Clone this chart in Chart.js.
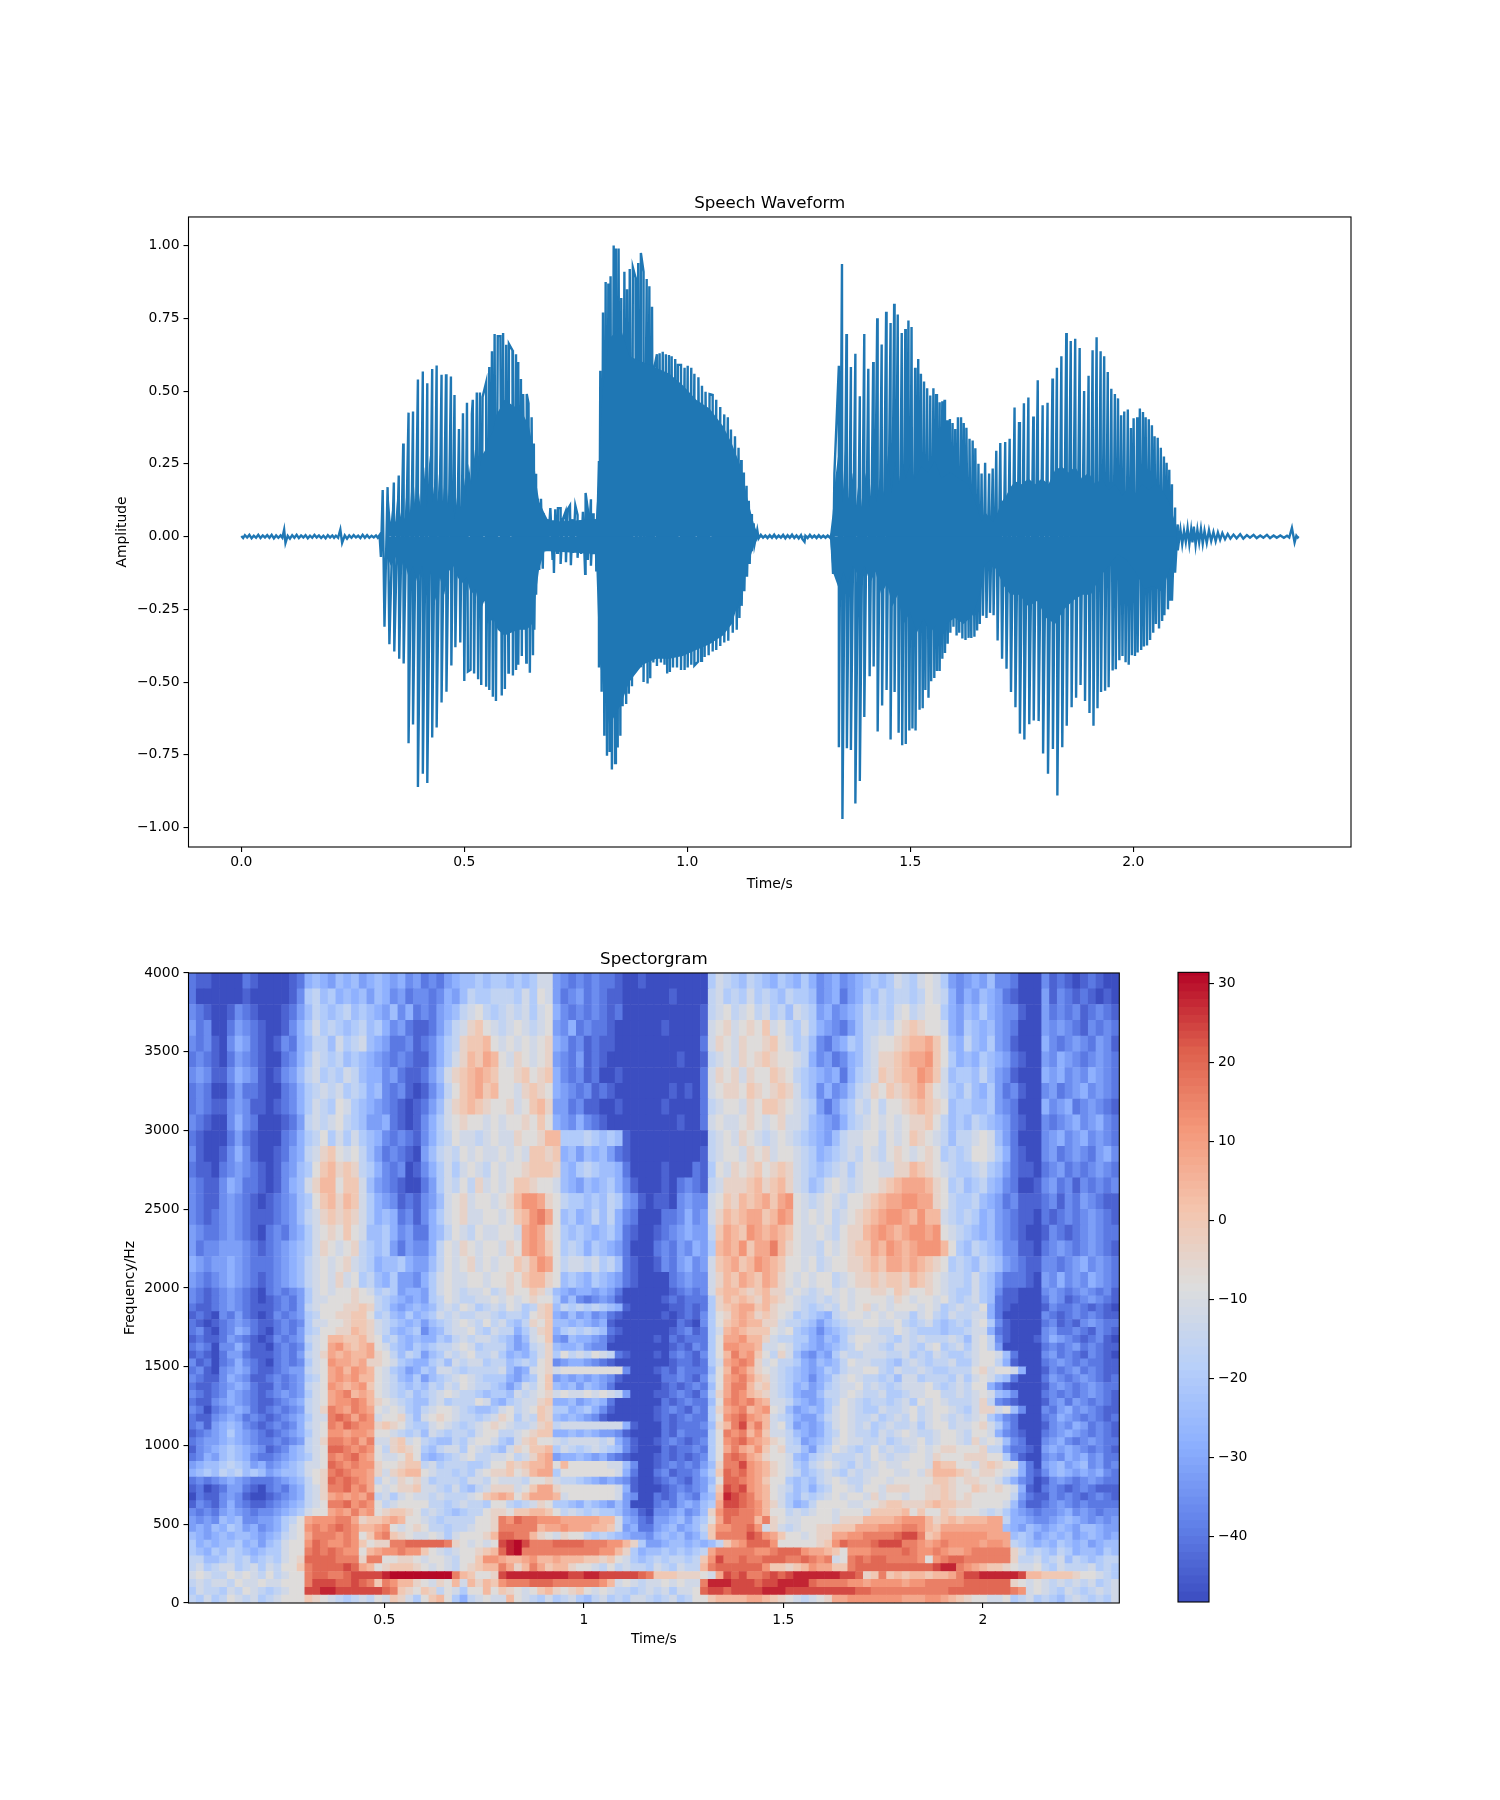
<!DOCTYPE html>
<html><head><meta charset="utf-8">
<script src="https://cdn.jsdelivr.net/npm/chart.js@4"></script>
<style>html,body{margin:0;padding:0;background:#fff}#p{position:relative;width:1500px;height:1800px;overflow:hidden}canvas{position:absolute}</style>
</head><body><div id="p">
<canvas id="w" width="1500" height="722" style="left:1px;top:171px;width:1500px;height:722px"></canvas>
<canvas id="s" width="1500" height="722" style="left:1px;top:926px;width:1500px;height:722px"></canvas>
<canvas id="c" width="130" height="660" style="left:1132px;top:960px;width:130px;height:660px"></canvas>
</div>
<script>
const waveTops=[[0,.002],[8,.005],[18,.006],[28,.003],[38,.006],[48,.004],[58,.005],[68,.006],[78,.004],[88,.004],[96,.024],[104,.003],[114,.005],[124,.006],[134,.004],[144,.005],[154,.003],[164,.006],[174,.004],[184,.003],[194,.005],[204,.004],[212,.003],[222,.024],[232,.004],[242,.004],[252,.005],[262,.003],[272,.006],[282,.005],[292,.003],[302,.004],[310,.005],
[317,.16],[328,.17],[342,.186],[353,.21],[363,.32],[375,.426],[385,.43],[396,.54],[407,.567],[417,.527],[428,.576],[438,.588],[449,.556],[459,.558],[470,.55],[478,.487],[488,.37],[497,.424],[506,.46],[517,.42],[519,.47],[528,.495],[535,.495],[541,.48],[549,.53],[556,.583],[562,.637],[568,.696],[575,.689],[581,.689],[587,.7],[594,.659],[600,.662],[608,.64],[616,.627],[621,.6],[627,.542],[632,.49],[640,.49],[644,.458],[651,.41],[656,.32],[661,.216],[665,.13],[672,.13],[678,.08],
[687,.06],[693,.098],[699,.056],[704,.094],[710,.098],[716,.098],[721,.06],[727,.085],[732,.094],[737,.107],[743,.06],[749,.107],[754,.075],[760,.056],[766,.085],[772,.15],[777,.094],[784,.128],[789,.08],[795,.06],
[802,.26],[805,.57],[811,.77],[817,.875],[823,.87],[828,.895],[835,1],[840,.99],[846,.99],[852,.82],[859,.91],[865,.85],[871,.92],[878,.925],[884,.89],[890,.94],[896,.975],[902,.91],[909,.885],[915,.86],[921,.79],[926,.58],[932,.627],[938,.63],[945,.635],[952,.627],[959,.624],[965,.62],[973,.61],[979,.59],[986,.59],[994,.58],[1001,.587],[1009,.58],[1016,.56],[1025,.548],[1033,.518],[1041,.498],[1050,.49],[1057,.487],[1065,.47],[1074,.445],[1083,.42],[1091,.41],[1098,.368],[1107,.345],[1115,.305],[1121,.263],[1127,.22],[1133,.175],[1138,.123],[1143,.078],[1149,.046],[1157,.023],
[1165,.006],[1175,.004],[1185,.005],[1195,.007],[1205,.004],[1215,.006],[1225,.005],[1235,.007],[1245,.004],[1255,.005],[1265,.003],[1275,.006],[1285,.004],[1295,.005],[1305,.003],[1315,.004],[1323,.005],
[1330,.217],[1340,.587],[1347,.937],[1357,.696],[1367,.583],[1377,.628],[1387,.482],[1397,.696],[1406,.577],[1417,.6],[1426,.75],[1436,.66],[1446,.773],[1456,.734],[1464,.8],[1472,.763],[1481,.7],[1489,.713],[1496,.743],[1503,.72],[1511,.58],[1518,.61],[1524,.56],[1531,.533],[1538,.51],[1545,.485],[1552,.51],[1558,.49],[1566,.462],[1572,.465],[1577,.47],[1583,.4],[1589,.404],[1595,.39],[1601,.37],[1607,.41],[1614,.41],[1620,.39],[1626,.374],[1633,.336],[1640,.33],[1646,.304],[1653,.25],[1660,.217],[1668,.254],[1677,.217],[1685,.234],[1693,.295],[1702,.322],[1713,.325],[1723,.336],[1734,.444],[1744,.394],[1755,.458],[1765,.478],[1776,.413],[1786,.537],[1797,.451],[1808,.46],[1819,.543],[1829,.58],[1839,.62],[1850,.7],[1860,.672],[1870,.68],[1880,.648],[1890,.5],[1900,.553],[1909,.64],[1918,.685],[1927,.637],[1935,.62],[1943,.566],[1951,.508],[1959,.49],[1966,.475],[1973,.417],[1980,.43],[1988,.437],[1995,.373],[2001,.407],[2009,.41],[2015,.44],[2022,.428],[2028,.41],[2035,.403],[2042,.383],[2048,.345],[2055,.34],[2062,.305],[2069,.275],[2075,.254],[2081,.23],[2087,.18],[2094,.1],[2100,.042],
[2106,.024],[2114,.02],[2122,.03],[2130,.024],[2136,.034],[2144,.024],[2152,.026],[2160,.02],[2170,.022],[2180,.016],[2190,.014],[2200,.012],[2212,.009],[2225,.007],[2240,.008],[2255,.005],[2270,.006],[2285,.004],[2300,.006],[2315,.004],[2330,.004],[2345,.003],[2356,.03],[2366,.003],[2371,.001]];
const waveBottoms=[[4,-.005],[13,-.003],[23,-.006],[33,-.004],[43,-.005],[53,-.003],[63,-.004],[73,-.006],[83,-.004],[92,-.004],[99,-.022],[109,-.007],[119,-.004],[129,-.005],[139,-.003],[149,-.006],[159,-.004],[169,-.003],[179,-.005],[189,-.006],[199,-.003],[208,-.004],[217,-.004],[226,-.022],[237,-.007],[247,-.004],[257,-.003],[267,-.005],[277,-.004],[287,-.004],[297,-.003],[306,-.004],
[313,-.07],[321,-.31],[332,-.37],[343,-.395],[354,-.42],[364,-.436],[375,-.71],[385,-.646],[396,-.86],[407,-.815],[417,-.847],[428,-.69],[438,-.656],[449,-.57],[460,-.533],[471,-.443],[480,-.38],[491,-.364],[500,-.496],[508,-.464],[514,-.458],[522,-.47],[531,-.49],[538,-.51],[549,-.516],[556,-.527],[564,-.55],[571,-.565],[584,-.546],[591,-.524],[599,-.467],[609,-.477],[616,-.458],[621,-.44],[629,-.41],[639,-.433],[647,-.468],[654,-.408],[657,-.32],[661,-.2],[668,-.115],[676,-.11],[681,-.05],
[687,-.048],[698,-.08],[701,-.125],[708,-.056],[716,-.094],[728,-.088],[739,-.098],[744,-.056],[754,-.073],[762,-.06],[771,-.128],[777,-.08],[784,-.1],[790,-.06],[796,-.12],
[802,-.45],[808,-.533],[814,-.684],[820,-.753],[826,-.74],[831,-.8],[838,-.778],[844,-.725],[850,-.684],[855,-.583],[863,-.575],[869,-.54],[876,-.514],[885,-.458],[895,-.445],[902,-.5],[911,-.505],[917,-.487],[924,-.433],[932,-.445],[941,-.433],[949,-.44],[955,-.47],[961,-.465],[968,-.45],[977,-.45],[986,-.458],[994,-.458],[1001,-.45],[1009,-.44],[1016,-.443],[1024,-.43],[1031,-.427],[1039,-.414],[1048,-.408],[1057,-.395],[1065,-.39],[1074,-.376],[1083,-.364],[1092,-.358],[1102,-.33],[1111,-.32],[1117,-.28],[1122,-.238],[1128,-.188],[1134,-.138],[1140,-.094],[1145,-.05],[1151,-.025],
[1160,-.006],[1170,-.004],[1180,-.005],[1190,-.004],[1200,-.005],[1210,-.004],[1220,-.006],[1230,-.004],[1240,-.005],[1250,-.006],[1258,-.008],[1263,-.018],[1270,-.005],[1280,-.004],[1290,-.005],[1300,-.004],[1310,-.004],[1320,-.004],
[1327,-.128],[1340,-.724],[1348,-.97],[1358,-.727],[1367,-.733],[1377,-.917],[1387,-.84],[1397,-.62],[1409,-.48],[1418,-.446],[1427,-.67],[1437,-.58],[1447,-.527],[1456,-.697],[1465,-.534],[1474,-.674],[1482,-.717],[1490,-.713],[1498,-.666],[1505,-.659],[1512,-.666],[1521,-.595],[1528,-.59],[1534,-.527],[1541,-.554],[1547,-.497],[1554,-.486],[1560,-.462],[1566,-.462],[1572,-.42],[1578,-.4],[1584,-.368],[1590,-.33],[1597,-.31],[1604,-.34],[1610,-.33],[1617,-.35],[1624,-.355],[1631,-.348],[1637,-.348],[1644,-.344],[1650,-.323],[1656,-.3],[1663,-.272],[1671,-.28],[1679,-.262],[1687,-.27],[1696,-.357],[1706,-.42],[1716,-.454],[1726,-.534],[1736,-.586],[1746,-.677],[1756,-.697],[1767,-.645],[1777,-.632],[1788,-.634],[1798,-.745],[1809,-.815],[1820,-.73],[1830,-.89],[1841,-.724],[1851,-.65],[1862,-.586],[1872,-.554],[1882,-.51],[1892,-.565],[1902,-.606],[1911,-.65],[1920,-.59],[1928,-.534],[1937,-.53],[1945,-.518],[1954,-.46],[1961,-.456],[1969,-.425],[1976,-.41],[1983,-.432],[1990,-.44],[1997,-.408],[2004,-.41],[2010,-.398],[2018,-.39],[2024,-.378],[2031,-.374],[2038,-.355],[2045,-.33],[2051,-.3],[2058,-.316],[2065,-.29],[2070,-.27],[2078,-.25],[2083,-.22],[2087,-.22],[2094,-.124],[2100,-.047],
[2110,-.026],[2118,-.018],[2126,-.026],[2133,-.02],[2140,-.028],[2148,-.02],[2156,-.024],[2165,-.022],[2175,-.015],[2185,-.016],[2195,-.011],[2206,-.009],[2218,-.007],[2232,-.006],[2247,-.007],[2262,-.004],[2277,-.005],[2292,-.004],[2307,-.005],[2322,-.004],[2338,-.004],[2350,-.003],[2362,-.02],[2369,-.003]];
const waveCoreUpper=[[325,.08],[330,.15],[335,.05],[340,.12],[345,.05],[350,.14],[355,.06],[360,.1],[366,.06],[372,.2],[378,.08],[384,.26],[390,.1],[395,.2],[402,.1],[410,.24],[416,.1],[422,.28],[428,.12],[434,.2],[440,.12],[446,.3],[452,.12],[458,.24],[464,.1],[470,.22],[478,.06],[484,.14],[492,.1],[498,.22],[504,.14],[510,.25],[516,.18],[524,.3],[530,.2],[540,.28],[548,.3],[556,.34],[564,.36],[572,.42],[580,.44],[590,.47],[600,.46],[610,.45],[620,.44],[632,.42],[645,.38],[655,.3],[660,.2],[668,.12],[680,.08],[690,.05],[795,.06],[803,.25],[810,.5],[825,.68],[850,.72],[870,.62],[900,.6],[930,.58],[960,.56],[990,.52],[1020,.47],[1050,.44],[1080,.38],[1100,.32],[1120,.24],[1135,.13],[1150,.04],[1160,.003],[1320,.003],
[1326,.08],[1332,.2],[1340,.3],[1348,.12],[1355,.34],[1362,.13],[1370,.22],[1378,.1],[1385,.2],[1392,.1],[1400,.22],[1408,.1],[1415,.24],[1424,.12],[1432,.2],[1442,.14],[1450,.28],[1458,.15],[1466,.26],[1474,.18],[1482,.26],[1490,.2],[1500,.25],[1510,.2],[1525,.24],[1540,.22],[1555,.26],[1570,.2],[1590,.22],[1610,.2],[1630,.18],[1650,.1],[1660,.05],[1670,.08],[1685,.05],[1695,.08],[1705,.12],[1715,.14],[1725,.17],[1735,.19],[1750,.18],[1765,.2],[1780,.18],[1795,.2],[1810,.18],[1825,.23],[1840,.24],[1855,.22],[1870,.24],[1885,.2],[1900,.22],[1915,.18],[1930,.2],[1945,.16],[1960,.18],[1975,.14],[1990,.17],[2005,.15],[2020,.18],[2035,.16],[2050,.18],[2065,.16],[2080,.12],[2098,.03]];
const waveCoreLower=[[325,-.06],[335,-.1],[345,-.07],[355,-.12],[365,-.08],[375,-.14],[385,-.1],[395,-.16],[405,-.1],[415,-.2],[425,-.12],[435,-.22],[445,-.14],[455,-.2],[465,-.12],[475,-.1],[485,-.14],[495,-.16],[505,-.14],[515,-.2],[525,-.18],[535,-.26],[545,-.22],[555,-.3],[565,-.28],[575,-.32],[590,-.34],[605,-.33],[620,-.32],[640,-.32],[652,-.3],[660,-.2],[668,-.11],[680,-.05],[690,-.05],[795,-.06],[803,-.42],[810,-.5],[825,-.65],[850,-.58],[870,-.5],[900,-.44],[930,-.42],[960,-.42],[990,-.41],[1020,-.39],[1050,-.37],[1080,-.34],[1100,-.3],[1120,-.2],[1135,-.1],[1150,-.03],[1160,-.003],[1320,-.003],
[1326,-.12],[1340,-.18],[1350,-.12],[1360,-.16],[1372,-.1],[1385,-.14],[1398,-.1],[1410,-.16],[1422,-.12],[1435,-.2],[1448,-.16],[1460,-.24],[1472,-.2],[1485,-.3],[1500,-.26],[1515,-.33],[1530,-.28],[1545,-.33],[1560,-.3],[1580,-.3],[1600,-.28],[1620,-.3],[1640,-.27],[1655,-.2],[1665,-.1],[1680,-.08],[1695,-.12],[1710,-.17],[1725,-.2],[1745,-.2],[1765,-.24],[1785,-.22],[1805,-.28],[1825,-.3],[1845,-.25],[1865,-.22],[1885,-.2],[1905,-.2],[1925,-.14],[1945,-.1],[1965,-.06],[1985,-.08],[2005,-.12],[2025,-.18],[2045,-.17],[2065,-.19],[2080,-.12],[2098,-.03]];
const waveXTicks=[0,0.5,1,1.5,2];
const waveYTicks=[-1,-0.75,-0.5,-0.25,0,0.25,0.5,0.75,1];
const specRowFloors=[3900,3800,3700,3600,3500,3400,3300,3200,3100,3000,2900,2800,2700,2600,2500,2400,2300,2200,2100,2000,1950,1900,1850,1800,1750,1700,1650,1600,1550,1500,1450,1400,1350,1300,1250,1200,1150,1100,1050,1000,950,900,850,800,750,700,650,600,550,500,450,400,350,300,250,200,150,100,50,0];
const specLevels={a:-48,b:-44,c:-40,d:-36,e:-32,f:-28,g:-24,h:-20,i:-16,j:-12,k:-8,l:-4,m:0,n:4,o:8,p:12,q:16,r:20,s:24,t:28,u:31};
const specRows=[
"cbbaaaacba aaabcfgfeg fgefgfefde cdcefgghgh hghghjjedc dcdccbaaba aaaaaaahji hgihgfhgfh fdefdefghg hjihjkjhed efegddcaaa dbcbabcbaa",
"caaaaaabaa aaabdhighf gfgegfdecd dcdfegihhi iihjhkjecd ecdcbbaaaa aabaaaaijh ihjhihgihh gdefcefhgi hiihikjifd fegfecbaaa ebdcbcbaba",
"dcbaabdcba aabcegihgh ighgfegdfc dcefgijkih ijijhjkfdc dcdcbcaaaa aaaaaabijk ijkijhigji hefdefgihi hjkijkkhfe gfhfeddbaa ecdcdbcdcb",
"ecdaacedcb aabdfhjhih ghighfdecb bcegijlmkj ijkjijkedf cdccbaaaaa abaaaabjkl jklkmjkihj hfedcegiij iklmlkkjfe hgfgedcaaa ededcbdcdc",
"dcdbadfecb abdcfgiigj hijgfeccdb cdfhilmmnk jkjkjklfec dbcbbaaaaa aaaaaacjlk jlkklmkjhi gdcefhgijk klmnnomkgf igfhedbaaa fdcdedcedb",
"cdcbacedcb aacdfhjihi ghgfedcdcb bdfhjlnmon kjlkjkledc ebcbaaaaaa aaabaabijk jlklmlkkji fdecdfgijl lmnoopmkhf gfhgfecbaa edfedcdedc",
"dedbbdfedb abdegijhih jigffdecbb cegjlmnonm kklmklmfdc dbcaabaaaa aaaaaacjlk ljlkkmlkih gfefcfhijm lmnnpomjgh hgigedbaaa fefdedfedc",
"cdcaaceccb aacdfhijij hihfgdcdba bdfikmnomn kkjlmlkfed cdbcbaaaaa aababacjkl lkmlklmljh gdfdegijlk mlmnomkjhg igfhecdbaa decdefdedc",
"cdcbbdedbb abcdfhjihk jhgfedcbab cegjlmnmlk kljkmnleec dbbaabaaaa abaaaacijk kjlkmmlkji heceghjiki kklmnmlkgh hgghedcaaa fdefcdedcb",
"dcbaadfdca aabceijijk ihgeefcbab dfhjklkkjk jkklkmkfed fdcbaaaaaa aaabaacjkj jklkjkljji gfedfhijkj kjkllmkigh gihgfecbaa dcdefdefdc",
"cbaaacecba aacdfhikhj hjhgfdcdcb dfhikjjijk jjlkklnnhh hihghgbaaa aaaaaaaijk jlkjijkjih gfegijjkki kjkmlkjigi ijkjgecaaa defdefdedc",
"dbaabdfdba abcefijlmk jkigecdcba egijikjkjj kjkjmmlmfg egfgecbaaa aaaaaabijk kjlkljkkji hfghijikji klkjklkhih ikkjhfcbaa decdedcefd",
"cbbacdedcb abdeghkmnl mlihfdcdab dfhjhjkjik jkklmmmlgf hihggfcaaa abaaacbhkj lklmklmlji hghijhjkkj jllnmlkjih hijhgecbba cdecdcdedc",
"dcbbdfeccb abdfgjlnnk mmjgedcbaa cehjikiljk jkmmlkkjgf egfghfdbaa abacdcbijl llmnlmnlji ghjkjijkkl mnooonlkhi ghigfdcaab decdbdcdcd",
"dcbbdedcba bcdeghkmnl nmjhfedbcb degjkljkkj klnppolkih hghgihedba bbadeddjkm lnmnomopkj ijkjikklmn ooppoolkih higfecdbbb cdbdcedcbb",
"dcbcdedcbb bcdegijlml mljhfgfcdb dfhjkljjkk jkmnpqokgh fgigifdcaa accdfdejln mnoomnpokj kjkijklmno pponpnnjih ihfgedcbba cbcdcdedcb",
"edccdedcba cdcefhjklk mkjgghfdec cfgikjikjj kkjopolkhg hgfghfcbaa bcdefeeimo nmpononmkj jkjikllnop onoppopkji hgfgedcbaa bdcbcdedcc",
"ecddeeedcb cdefghjlkj klihgheced dfikjlkjkk jlkopomkhi hfhgfecaaa cdcedfehno npmooqnlkj jikjklmmon ponopppnkh gihgfddbba cdedcdedcb",
"fedeefedcc cdefgijkjk ljihfgghfe egikjkljkj kkmlnpokij jijhigcbaa bdcefdejmn omnponmkkj kijkkllmnm oononmlkhi hgihgedcbb ddcdefdedc",
"edcdefedcb cdefgijkjl jkhigfheed fhjkjjkkjk klkmnnlkgh gfhgfecbaa aacdeddjln monmonlkjk jkkijkllml mmlnmlkjii hjhgecccba edfdedfedc",
"dcbcdedcba cdcdehjkjk klkjhiheff ehjkjijjki jlkkmljgfe ffefecaaaa aabcdcdjmn nmlmnlljkj ijkjkjkkll kmlkklkjih hjhgdbbaaa dedcdedcdb",
"dcbcdedcba bcdcehjjkk klkkihgfef ehikjiijjk jkjklkkheg dcdedbaaaa abcbccchln mnmlnmlkji ijijkjkkkk jlkjkkjkih ijhgcbbaaa cedbcdedcb",
"cbbcdedcbb bcdceijkkk llmlihfefg fgijikjhij ikjhilmgih ihihgfbaaa aabbcbchlm noomnlkkji hijikjkljk jkkkjkjhij iikfcbaaaa bdccdcbcba",
"bcbadcecba bdcdehikkl lmmkhigfhf ghjijiijji hiihklmfeg efdecbaaaa ababcbdhkl nonlmlkjhi hgfijkkjkj kjjhjkihji ijjfcaaaaa dcbcdcdcbb",
"cbabcdedcb bcdcdhjjkk lmmljihgfg eghijkjiki jhgilkmggf gfefbaaaaa aaacbadhkm nonnlljiih geghijjkkj jkihijhghi hjkhdbaaaa cdbcbdedcc",
"cdbacdfecb acdcehikkl lnmljigfgh dfgijjkihj iifhjlmfhi hihgcbaaaa aabcdbchjn onmmmkjkhg fdfghijjji ikjihhhghh ijjfcbaaaa deccdcbdcb",
"bcbbcedcba bdcdeijknn mmnlkhigfg ffhgijijji hgegjkmedg ffedbaaaaa bacbccchko opnnljiihh fegfhjkkjj ihjijiiiji gjkidbaaab dfedcbcdba",
"cdcaddfdbb acdcdhjkop nmnokjhgfh ghiijkjhii igefijlgff geddaaaaaa aabcbdchkp poonjjkjhg fefghikjji hjjihjkhij hjkieaaaaa cdcdecdcbb",
"bcbaceecbb bcdceijlon onnolkigih eghjijkiij hfgfhjlhki jikjicbaaa bacdcbdhkn qopmkiljge dfehjiijjj iijhihjihh ijkkjgcaaa decdcbdcba",
"dbcacdfdcb acdcdhjkpo onollkjhgf fhigjijjhi ighihkldef fedcbaaaaa aabccbchjo pqpljkiihf egfgikjjii hgijihiijh hjkkifbaaa cdedcdccbb",
"cdbadefecb bcdeeijkop nponkjhgef hgjjihiiii jgefjkljkk kkkkkkdaaa bcbdcccgkn qpnlkjihgf efhgijjkki hjiijihhii ikljkkjfaa bdcdecdcbb",
"dcbbdfedbb cdcdehikop opnnkjigfh eghijkjihh hfeghkmefe fefedbaaaa accdcbdhko pqomljihgf dfgijkjiih igjjhiiihj hjkjhgcaaa cedcdedcbc",
"cbbcdefecb bdcdeijkpo nopmkjihgh gihjikjiih gegjikmgfg egfecaaaaa abcbcdcgko qqnlmjihfg efhijjkiji hijjjkihij ikkfdbaaaa bdedcdedcc",
"dcbcdfedcb cdedehjkop qnonkjihig hijkjiihgh hgjijkljkj jkjkjieaaa bbcdcbdhlo qpnmljihfe egiijkjiij hhijjkkiij ijkjgfdaaa cdcdcdedcb",
"cbbdefedcb bcdefijkop pqpnlkjihg gijhiiikjg fhijjlmffg efgfcaaaaa acbcdccgkp qpqonjjigf efhikjihii hijhkjkjii ijlidcbaaa bdecedcdcb",
"dcacdefecb cdcdeijlqp oqpokjkjhg ijkkjihggh jkijkmlhhf ghfdbaaaaa bcdcbdchlo pqnopkjgef gfhjkjihhj iijkijkkji hjlljkgdaa dcefdedcbb",
"cbbdefecdc bcdefhjjqr qoqpjkklig jklkjiihij lkhjimlgfg fedbaaaaaa bcbcdcchkp qrponjihfe egijkjiijh ijikijkjij ijkhfdcaaa cdfedcdcbc",
"cdbefgfdcb cdcdfijkqp rqpplmlkih hjkjihijkl kjiijlmijj jjjjjjfbaa acbcccdgln qsoqnjkhef efhjkjijhi jiijhjkkij jkljhecaaa bdedfecdcb",
"bcdefhfedc bcdefhjkpp oppokkjihi gjihiihjkk iijklmmffg fgfeedbaaa acbdccchkq pqnpmjjigf efhikjiihj ijkjiijkkj ikkjfdcbaa cdefedcdcb",
"cdeefgfedc cdcdeijlqq pqoqjjlmjk ihggihjkkj hgjlmkkjij jjjijfdbaa bcdcbcdhkp qrponlkihe fghjkjjiij hijjkijkkj iljkjgdcaa defdcdedcc",
"bdefghgfed bcdfgijkrr qpqpkilmlk hgijjhkjih gjlkmmnhji hijihgdbaa acbccdchko qonpmkliig ehikjihiki jiijkjkllk kkliieccba efefedcdcb",
"cdfeghgfdc cdefghjkqp qrpokjjkmk gfghijkiij jkijlnoeff gfefdcbaaa bcbcbcdhkq rqonlkkjgf hijiiijikj ijjkkjlkkk lllkkhdbaa dedfefdecc",
"efgghihgef defghjjkrq pqpplkklmm ijhiiihhik kmlmnnoknk kkkkjjgdaa bcdcdceglq qsponlkjhg ijkjihjijk jjkkkjnmmk kjlmlkkfca efgefgdecd",
"fghgihighg efgghjklqr qppoljlmnn kjiihihjkl lmklnoohkk kkkkkjfcaa cdbccdfhmr qrponlkjig hijihjijjk kjjkjlnnnm lkllkjifcb dfgfefefdc",
"cdcdefedcc cdefgiklrq rqpoikjlkl jhiiihjjik jjjikkljii hgfefedbaa bcdcbdegkr rqpomkkhgh gijkjiijkk jkkkkkmmlk llkkjhfdca bdedcdedcc",
"bcabceecba cdcefijlqq rpqokjkllm jjihjhgijl lljkmoolkk kkkkkjfbaa abcdcdehms rsponkjigh fhikkjikkj lllkkllmlk kmlklkjfba cdcbcdcbbb",
"acbbdedbaa bcdefijlop opoqijhjkj jijiiijkmn onkmooonjk kkkkkjedaa cbcedcfgnt srqonkjhgi hijkjkkjlj kkjkkllmlk lkkkkkiecb bdcdcbcdcb",
"bdcbdfdcbb cdefgijkqq rpqpkijkkk kiihijiihk kihijlkhhg fhgfegeaaa cdcefeghos srqpnljhfg ikkkkjjkkl mmlllmnmml lkkkkjgdbb cdedcdcccc",
"dcdcefedcd defghjkkop oqopklmmlk ijihghiikl lkmmnnmkij ihihhgedba ddefdeglpr rqqpnkkiji jkkjkkkjmm mmnkmkkmlk kkjijhfedc ddefdedcdd",
"ededgfgdde efhikopppq qolmmnonkk jihiiiikkl qprqqpppoo ooonnjfecb eefgeghkor qqqnqlkjjk kkkjlllnnn nopppnlmnm nnnooiffed defgfedede",
"efegfhgefd efhjkpqpqr qpnnopkjkl kiihiijkkl qqqqqnoopo oonnmjefcc efgefgimpp qqrpjljijk kllmmmooop ppqqpnmooo ooooogfegf efgfeggfee",
"gfefgfggfe fgijkoqqqp qpkmpqmlkj jkjhjkkkln rrqqnlkjlk kihihgfeed fgfgefhmqq qqsrpomkkj kllooppqqq qrssqmnppp pppoooghge fgfgefgfef",
"hfgfgghfge ghjkkprqpp qpmkllqqrr rrrqlkjkjk stusqqqrrr rqqqppnlhe efggfgfgim oprrrpkkkk klmprqqqrs ssqqpopqpp ppoppoihgf gfhgfgefgg",
"hgfhgihgfg hhjkkqrqrq ppknoppqpp mkjijkklmn rtuqqqqqqq qqqppnlhfg ghghghioqq qqqppqrrrp oonmkpppqq qqrqppqpoo pqqqqqljhi hgihfggfhg",
"iigghihigh ihjklrrrrq qqlqqkkllk jkkjikkmpp onnopnnonn nmmlmkjhgh ihiihimpsq qrqqrrrqqr qpqjkqrqrr qqqqpkpqrr qqqqqqliij hijgihghii",
"ijhijjhijh jikkmqrrrr sronklmmml kjkjiklmnn qolnqomnnl kkjikijiih jihjiinqrr rrrrpmmlmn poommqrrrr rrrrrrsttq ponmmlkjjk ihjiiijhih",
"jkjiikjkji kijkkqrrqq rsssstuuuu uuuuqnmkkl stttttttts sttsssssrq mmmlllkjos rsqqrsrstt ttttssrlmq mnmnnmnnoq sstttttsnn mmmmlkkjih",
"ijijjikjjk jjkkkqsssr rsrqmqpnnl kjlknjnlnm pqqqrrrqqq qqqpnjkjij jkjkjjqttt sssrsstttt rqqqqppopp ppoppqqqqq rrrrrrlkjk jijijijhij",
"hjiihjikji hijkksstts sssssrqmlk mlikjhkknk mlkjkmnlkl mkjkjiihij ijhjjkrssr sssstttsss ssssssrrqq qqqqqqqqrr rrrrrrqpjk jihjihijij",
"ihjhikjijh ijkkkmlkji hijikjmljh kmnkhfijkj jnkjihjhij hgijhihjji hijhikkmnn nnoonmlkji jklooppppp ppooopponm lkkjjkhijh ihgijihihj"];
const specXRange=[0.009,2.342];
const specXTicks=[0.5,1,1.5,2];
const specYTicks=[0,500,1000,1500,2000,2500,3000,3500,4000];
const cbValues=[-48,-47,-46,-45,-44,-43,-42,-41,-40,-39,-38,-37,-36,-35,-34,-33,-32,-31,-30,-29,-28,-27,-26,-25,-24,-23,-22,-21,-20,-19,-18,-17,-16,-15,-14,-13,-12,-11,-10,-9,-8,-7,-6,-5,-4,-3,-2,-1,0,1,2,3,4,5,6,7,8,9,10,11,12,13,14,15,16,17,18,19,20,21,22,23,24,25,26,27,28,29,30,31];
const cbTicks=[-40,-30,-20,-10,0,10,20,30];
const cbRange=[-48.3,31.43];
const coolwarm=[[59,76,192],[98,130,234],[141,176,254],[184,208,249],[221,221,221],[244,196,173],[244,152,122],[222,96,77],[180,4,38]];

function colorOf(v){
  let n=(v-cbRange[0])/(cbRange[1]-cbRange[0]);
  n=Math.max(0,Math.min(1,n))*(coolwarm.length-1);
  const i=Math.min(coolwarm.length-2,Math.floor(n)),f=n-i,a=coolwarm[i],b=coolwarm[i+1];
  return 'rgb('+a.map((c,k)=>Math.round(c+(b[k]-c)*f)).join(',')+')';
}
const FONT='"DejaVu Sans"',TK=13.9,BLUE='#1f77b4';
Chart.defaults.font.family=FONT;Chart.defaults.color='#000';
const frame={id:'frame',afterDraw(ch){const a=ch.chartArea,c=ch.ctx;c.save();c.strokeStyle='#000';c.lineWidth=1.1;c.strokeRect(a.left,a.top,a.right-a.left,a.bottom-a.top);c.restore();}};
const minus=v=>String(v).replace('-','\u2212');
const axisBase=(pad,fmt)=>({grid:{display:true,offset:false,drawOnChartArea:false,drawTicks:true,tickLength:5,color:'#000',lineWidth:1.1},border:{display:false},
  ticks:{font:{size:TK},color:'#000',padding:pad,maxRotation:0,autoSkip:false,includeBounds:false,callback:fmt}});
const ttl=(t,top)=>({display:true,text:t,fullSize:false,font:{size:16.67,weight:'normal',lineHeight:1},color:'#000',padding:{top:top,bottom:5}});
const axTitle=t=>({display:true,text:t,font:{size:TK},color:'#000',padding:0});

/* waveform */
const pts=a=>a.map(p=>({x:p[0]/1000,y:p[1]}));
const wavePts=pts(waveTops.concat(waveBottoms).sort((a,b)=>a[0]-b[0]));
new Chart(document.getElementById('w'),{type:'line',plugins:[frame],
 data:{datasets:[
  {data:pts(waveCoreUpper),borderWidth:0,pointRadius:0,backgroundColor:BLUE,fill:'origin',tension:0},
  {data:pts(waveCoreLower),borderWidth:0,pointRadius:0,backgroundColor:BLUE,fill:'origin',tension:0},
  {data:wavePts,borderColor:BLUE,borderWidth:2.4,pointRadius:0,fill:false,tension:0,borderJoinStyle:'miter'}]},
 options:{responsive:false,animation:false,devicePixelRatio:1,layout:{padding:{left:113,right:150,top:0,bottom:0}},
  plugins:{legend:{display:false},tooltip:{enabled:false},title:ttl('Speech Waveform',24.3)},
  scales:{
   x:Object.assign(axisBase(2.5,v=>v.toFixed(1)),{type:'linear',min:-0.1185,max:2.4885,afterFit:s=>{s.height=46},
     afterBuildTicks:s=>{s.ticks=waveXTicks.map(v=>({value:v}))},title:axTitle('Time/s')}),
   y:Object.assign(axisBase(4,v=>minus(v.toFixed(2))),{type:'linear',min:-1.0666,max:1.0984,afterFit:s=>{s.width=74.5},
     afterBuildTicks:s=>{s.ticks=waveYTicks.map(v=>({value:v}))},title:axTitle('Amplitude')})}}});

/* spectrogram */
const cellData=[],cellColors=[];
const colW=(specXRange[1]-specXRange[0])/120;
specRows.forEach((row,r)=>{
  const hi=r?specRowFloors[r-1]:4000,lo=specRowFloors[r];
  row.split(' ').forEach((g,gi)=>{ for(let k=0;k<10;k++){const ch=g[k]||g[g.length-1];
    cellData.push({x:specXRange[0]+(gi*10+k+.5)*colW,y:[lo,hi]});cellColors.push(colorOf(specLevels[ch]));}});
});
new Chart(document.getElementById('s'),{type:'bar',plugins:[frame],
 data:{datasets:[{data:cellData,backgroundColor:cellColors,borderWidth:0,barThickness:7.76,grouped:false}]},
 options:{responsive:false,animation:false,devicePixelRatio:1,layout:{padding:{left:121,right:381.7,top:0,bottom:0}},
  plugins:{legend:{display:false},tooltip:{enabled:false},title:ttl('Spectorgram',25.3)},
  scales:{
   x:Object.assign(axisBase(4,v=>String(v)),{type:'linear',offset:false,min:specXRange[0],max:specXRange[1],afterFit:s=>{s.height=45},
     afterBuildTicks:s=>{s.ticks=specXTicks.map(v=>({value:v}))},title:axTitle('Time/s')}),
   y:Object.assign(axisBase(4,v=>String(v)),{type:'linear',min:0,max:4000,afterFit:s=>{s.width=66.5},
     afterBuildTicks:s=>{s.ticks=specYTicks.map(v=>({value:v}))},title:axTitle('Frequency/Hz')})}}});

/* colour bar */
new Chart(document.getElementById('c'),{type:'bar',plugins:[frame],
 data:{labels:['c'],datasets:cbValues.map(v=>({data:[[v<=-48?cbRange[0]:v-.2,v>=31?cbRange[1]:v+1]],backgroundColor:colorOf(v+.5),borderWidth:0,grouped:false,barPercentage:1,categoryPercentage:1}))},
 options:{responsive:false,animation:false,devicePixelRatio:1,layout:{padding:{left:46,right:0,top:12,bottom:18}},
  plugins:{legend:{display:false},tooltip:{enabled:false}},
  scales:{x:{display:false},
   y:Object.assign(axisBase(4,v=>minus(v)),{type:'linear',position:'right',min:cbRange[0],max:cbRange[1],afterFit:s=>{s.width=53},
     afterBuildTicks:s=>{s.ticks=cbTicks.map(v=>({value:v}))}})}}});
</script></body></html>
